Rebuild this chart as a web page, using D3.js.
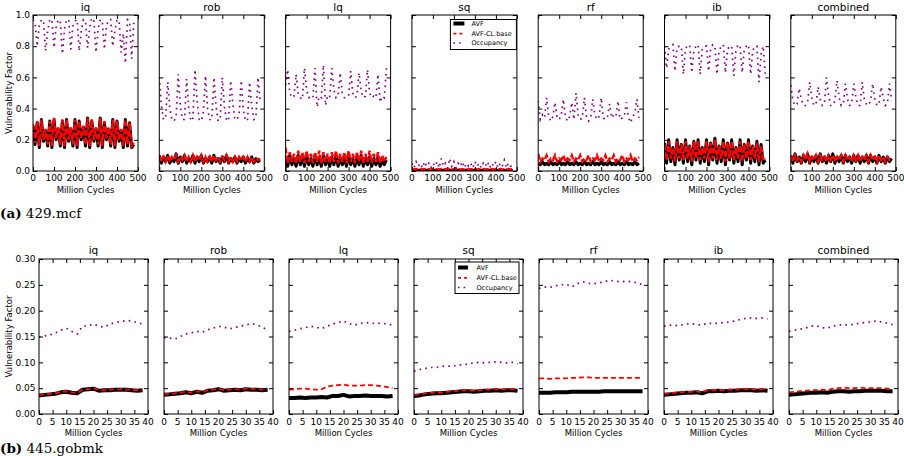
<!DOCTYPE html>
<html><head><meta charset="utf-8">
<script src="https://cdn.jsdelivr.net/npm/d3@7"></script>
<style>body{margin:0;background:#fff}svg{display:block}</style>
</head><body>
<svg id="c" width="904" height="456"></svg>
<script>
const panels = ["iq","rob","lq","sq","rf","ib","combined"];
const seriesNames = ["AVF","AVF-CL.base","Occupancy"];

const topCycles = [0,10,20,30,40,50,60,70,80,90,100,110,120,130,140,150,160,170,180,190,200,210,220,230,240,250,260,270,280,290,300,310,320,330,340,350,360,370,380,390,400,410,420,430,440,450,460,470,480];
const topXTicks = [0,100,200,300,400,500];
const topYTicks = [0,0.2,0.4,0.6,0.8,1.0];

const a_iq_avf = [0.29,0.17,0.31,0.15,0.33,0.19,0.26,0.16,0.32,0.15,
0.33,0.20,0.27,0.16,0.32,0.15,0.33,0.19,0.27,0.16,
0.33,0.15,0.32,0.20,0.28,0.16,0.34,0.15,0.32,0.19,
0.27,0.16,0.34,0.15,0.31,0.20,0.27,0.16,0.33,0.15,
0.32,0.19,0.26,0.15,0.33,0.16,0.31,0.15,0.17];
const a_iq_cl = [0.30,0.18,0.32,0.16,0.33,0.20,0.27,0.17,0.32,0.16,
0.34,0.21,0.28,0.17,0.33,0.16,0.33,0.20,0.28,0.17,
0.33,0.16,0.32,0.21,0.29,0.17,0.34,0.16,0.33,0.20,
0.28,0.17,0.34,0.16,0.32,0.21,0.28,0.17,0.33,0.16,
0.32,0.20,0.27,0.16,0.33,0.17,0.31,0.16,0.18];
const a_iq_occ = [0.97,0.95,0.80,0.93,0.97,0.96,0.77,0.90,0.97,0.97,
0.79,0.92,0.97,0.96,0.75,0.91,0.97,0.97,0.78,0.93,
0.96,0.97,0.77,0.90,0.97,0.96,0.79,0.92,0.98,0.97,
0.76,0.91,0.97,0.96,0.78,0.93,0.97,0.97,0.80,0.90,
0.97,0.96,0.76,0.88,0.69,0.97,0.96,0.72,0.95];

const a_rob_avf = [0.10,0.05,0.09,0.06,0.10,0.05,0.08,0.06,0.11,0.05,
0.09,0.06,0.10,0.05,0.08,0.06,0.10,0.05,0.09,0.06,
0.10,0.05,0.08,0.06,0.09,0.05,0.10,0.06,0.08,0.05,
0.09,0.06,0.10,0.05,0.08,0.06,0.09,0.05,0.08,0.06,
0.09,0.05,0.08,0.06,0.09,0.05,0.08,0.06,0.07];
const a_rob_cl = [0.10,0.06,0.09,0.06,0.10,0.06,0.09,0.07,0.10,0.06,
0.09,0.07,0.10,0.06,0.09,0.06,0.10,0.06,0.09,0.07,
0.10,0.06,0.09,0.06,0.09,0.06,0.10,0.07,0.09,0.06,
0.09,0.07,0.10,0.06,0.09,0.06,0.09,0.06,0.09,0.07,
0.09,0.06,0.09,0.06,0.09,0.06,0.08,0.07,0.08];
const a_rob_occ = [0.60,0.42,0.33,0.34,0.57,0.40,0.33,0.32,0.35,0.62,
0.42,0.33,0.33,0.59,0.41,0.32,0.34,0.65,0.45,0.33,
0.32,0.38,0.61,0.40,0.33,0.33,0.60,0.42,0.32,0.34,
0.60,0.41,0.33,0.32,0.58,0.43,0.33,0.33,0.36,0.58,
0.40,0.32,0.33,0.57,0.42,0.33,0.34,0.60,0.45];

const a_lq_avf = [0.09,0.03,0.10,0.04,0.08,0.03,0.10,0.04,0.09,0.03,
0.10,0.04,0.08,0.03,0.10,0.04,0.09,0.03,0.10,0.04,
0.08,0.03,0.09,0.04,0.10,0.03,0.08,0.04,0.09,0.03,
0.10,0.04,0.08,0.03,0.09,0.04,0.10,0.03,0.08,0.04,
0.09,0.03,0.08,0.04,0.09,0.03,0.07,0.04,0.07];
const a_lq_cl = [0.15,0.05,0.12,0.06,0.11,0.05,0.13,0.06,0.12,0.05,
0.13,0.06,0.11,0.05,0.12,0.06,0.13,0.05,0.12,0.06,
0.11,0.05,0.12,0.06,0.13,0.05,0.11,0.06,0.12,0.05,
0.13,0.06,0.11,0.05,0.12,0.06,0.13,0.05,0.11,0.06,
0.13,0.05,0.11,0.06,0.12,0.05,0.10,0.06,0.09];
const a_lq_occ = [0.55,0.65,0.50,0.47,0.48,0.62,0.50,0.47,0.46,0.66,
0.52,0.47,0.48,0.47,0.66,0.41,0.48,0.47,0.68,0.42,
0.48,0.47,0.66,0.52,0.47,0.48,0.63,0.50,0.47,0.47,
0.48,0.64,0.50,0.47,0.48,0.63,0.51,0.47,0.48,0.65,
0.50,0.47,0.48,0.47,0.62,0.44,0.48,0.47,0.66];

const a_sq_avf = [0.005,0.004,0.006,0.004,0.005,0.004,0.006,0.004,0.005,0.004,
0.006,0.004,0.005,0.004,0.006,0.004,0.005,0.004,0.006,0.004,
0.005,0.004,0.006,0.004,0.005,0.004,0.006,0.004,0.005,0.004,
0.006,0.004,0.005,0.004,0.006,0.004,0.005,0.004,0.006,0.004,
0.005,0.004,0.006,0.004,0.005,0.004,0.006,0.004,0.005];
const a_sq_cl = [0.012,0.010,0.013,0.010,0.012,0.010,0.013,0.010,0.012,0.010,
0.013,0.010,0.012,0.010,0.013,0.010,0.012,0.010,0.013,0.010,
0.012,0.010,0.013,0.010,0.012,0.010,0.013,0.010,0.012,0.010,
0.013,0.010,0.012,0.010,0.013,0.010,0.012,0.010,0.013,0.010,
0.012,0.010,0.013,0.010,0.012,0.010,0.013,0.010,0.012];
const a_sq_occ = [0.05,0.02,0.06,0.03,0.05,0.02,0.06,0.03,0.05,0.02,
0.05,0.03,0.06,0.02,0.08,0.03,0.05,0.02,0.08,0.03,
0.06,0.02,0.05,0.03,0.06,0.02,0.05,0.03,0.05,0.02,
0.06,0.03,0.05,0.02,0.05,0.03,0.06,0.02,0.05,0.03,
0.06,0.02,0.05,0.03,0.07,0.02,0.05,0.03,0.04];

const a_rf_avf = [0.05,0.04,0.06,0.04,0.05,0.04,0.06,0.04,0.05,0.04,
0.06,0.04,0.05,0.04,0.06,0.04,0.05,0.04,0.06,0.04,
0.05,0.04,0.06,0.04,0.05,0.04,0.06,0.04,0.05,0.04,
0.06,0.04,0.05,0.04,0.06,0.04,0.05,0.04,0.06,0.04,
0.05,0.04,0.06,0.04,0.05,0.04,0.06,0.04,0.05];
const a_rf_cl = [0.11,0.06,0.08,0.07,0.10,0.06,0.08,0.07,0.10,0.06,
0.08,0.07,0.10,0.06,0.08,0.07,0.10,0.06,0.08,0.07,
0.10,0.06,0.08,0.07,0.10,0.06,0.08,0.07,0.10,0.06,
0.08,0.07,0.10,0.06,0.08,0.07,0.10,0.06,0.08,0.07,
0.10,0.06,0.08,0.07,0.10,0.06,0.08,0.07,0.09];
const a_rf_occ = [0.45,0.33,0.36,0.34,0.47,0.35,0.32,0.35,0.44,0.34,
0.33,0.36,0.46,0.34,0.32,0.35,0.44,0.33,0.50,0.36,
0.33,0.34,0.47,0.35,0.32,0.34,0.46,0.36,0.33,0.35,
0.47,0.34,0.33,0.35,0.43,0.34,0.36,0.35,0.45,0.33,
0.34,0.35,0.44,0.34,0.31,0.35,0.37,0.46,0.34];

const a_ib_avf = [0.18,0.05,0.20,0.06,0.15,0.04,0.20,0.07,0.17,0.05,
0.20,0.06,0.16,0.04,0.19,0.07,0.20,0.05,0.15,0.06,
0.20,0.04,0.18,0.07,0.21,0.05,0.16,0.06,0.20,0.04,
0.18,0.07,0.20,0.05,0.15,0.06,0.20,0.04,0.17,0.07,
0.20,0.05,0.16,0.06,0.19,0.04,0.17,0.05,0.07];
const a_ib_cl = [0.17,0.07,0.19,0.08,0.15,0.06,0.19,0.08,0.17,0.07,
0.19,0.08,0.16,0.06,0.19,0.08,0.19,0.07,0.15,0.08,
0.19,0.06,0.18,0.08,0.20,0.07,0.16,0.08,0.19,0.06,
0.18,0.08,0.19,0.07,0.15,0.08,0.19,0.06,0.17,0.08,
0.19,0.07,0.16,0.08,0.18,0.06,0.16,0.07,0.08];
const a_ib_occ = [0.80,0.66,0.78,0.80,0.81,0.64,0.79,0.80,0.80,0.62,
0.78,0.81,0.80,0.63,0.77,0.80,0.81,0.62,0.78,0.80,
0.80,0.64,0.79,0.81,0.80,0.62,0.77,0.80,0.81,0.63,
0.78,0.80,0.80,0.61,0.77,0.81,0.80,0.63,0.78,0.80,
0.81,0.62,0.77,0.80,0.80,0.57,0.75,0.80,0.62];

const a_comb_avf = [0.10,0.05,0.11,0.06,0.09,0.05,0.10,0.06,0.11,0.05,
0.09,0.06,0.10,0.05,0.11,0.06,0.09,0.05,0.10,0.06,
0.11,0.05,0.09,0.06,0.10,0.05,0.10,0.06,0.09,0.05,
0.10,0.06,0.10,0.05,0.09,0.06,0.10,0.05,0.10,0.06,
0.09,0.05,0.10,0.06,0.09,0.05,0.09,0.06,0.08];
const a_comb_cl = [0.10,0.06,0.10,0.07,0.09,0.06,0.10,0.07,0.11,0.06,
0.09,0.07,0.10,0.06,0.10,0.07,0.09,0.06,0.10,0.07,
0.10,0.06,0.09,0.07,0.10,0.06,0.10,0.07,0.09,0.06,
0.10,0.07,0.10,0.06,0.09,0.07,0.10,0.06,0.10,0.07,
0.09,0.06,0.10,0.07,0.09,0.06,0.09,0.07,0.08];
const a_comb_occ = [0.55,0.45,0.42,0.43,0.53,0.46,0.42,0.42,0.44,0.57,
0.47,0.42,0.43,0.54,0.46,0.42,0.43,0.60,0.48,0.42,
0.42,0.45,0.58,0.47,0.42,0.43,0.56,0.46,0.42,0.43,
0.56,0.47,0.42,0.42,0.57,0.46,0.43,0.42,0.45,0.56,
0.46,0.42,0.43,0.54,0.47,0.42,0.43,0.56,0.45];

const botCycles = [0,2,4,6,8,10,12,14,16,18,20,22,24,26,28,30,32,34,36,38];
const botXTicks = [0,5,10,15,20,25,30,35,40];
const botYTicks = [0,0.05,0.10,0.15,0.20,0.25,0.30];

const b_iq_avf = [0.036,0.037,0.038,0.039,0.042,0.043,0.041,0.040,0.047,0.048,0.049,0.045,0.046,0.046,0.047,0.047,0.047,0.046,0.045,0.046];
const b_iq_cl = [0.037,0.038,0.039,0.040,0.043,0.044,0.042,0.041,0.047,0.048,0.050,0.046,0.046,0.047,0.047,0.048,0.047,0.047,0.046,0.046];
const b_iq_occ = [0.149,0.151,0.153,0.157,0.162,0.166,0.160,0.155,0.170,0.171,0.174,0.170,0.168,0.174,0.177,0.179,0.181,0.180,0.177,0.174];

const b_rob_avf = [0.037,0.038,0.039,0.040,0.042,0.040,0.043,0.041,0.045,0.046,0.048,0.045,0.046,0.047,0.046,0.048,0.047,0.047,0.046,0.047];
const b_rob_cl = [0.038,0.039,0.040,0.041,0.043,0.041,0.044,0.042,0.046,0.047,0.049,0.046,0.047,0.048,0.047,0.049,0.048,0.048,0.047,0.048];
const b_rob_occ = [0.148,0.147,0.145,0.150,0.155,0.157,0.160,0.158,0.163,0.166,0.170,0.168,0.165,0.167,0.170,0.172,0.175,0.173,0.168,0.163];

const b_lq_avf = [0.031,0.031,0.032,0.031,0.032,0.032,0.033,0.032,0.035,0.035,0.037,0.034,0.035,0.035,0.036,0.035,0.035,0.035,0.034,0.035];
const b_lq_cl = [0.047,0.048,0.049,0.049,0.048,0.047,0.048,0.053,0.055,0.056,0.057,0.055,0.055,0.055,0.056,0.056,0.055,0.054,0.052,0.050];
const b_lq_occ = [0.160,0.162,0.165,0.167,0.170,0.168,0.165,0.170,0.174,0.177,0.180,0.175,0.172,0.175,0.177,0.176,0.175,0.176,0.174,0.172];

const b_sq_avf = [0.035,0.036,0.038,0.039,0.040,0.040,0.041,0.042,0.043,0.044,0.044,0.043,0.044,0.045,0.045,0.046,0.045,0.046,0.046,0.045];
const b_sq_cl = [0.037,0.038,0.040,0.041,0.042,0.041,0.043,0.044,0.045,0.046,0.046,0.045,0.046,0.047,0.047,0.048,0.047,0.048,0.048,0.047];
const b_sq_occ = [0.083,0.086,0.088,0.090,0.090,0.092,0.093,0.092,0.095,0.095,0.097,0.099,0.100,0.099,0.100,0.101,0.100,0.099,0.100,0.097];

const b_rf_avf = [0.041,0.041,0.041,0.042,0.042,0.042,0.043,0.043,0.043,0.043,0.043,0.043,0.044,0.044,0.044,0.044,0.044,0.044,0.044,0.044];
const b_rf_cl = [0.069,0.069,0.068,0.069,0.069,0.069,0.070,0.070,0.071,0.071,0.070,0.070,0.070,0.070,0.070,0.070,0.070,0.070,0.070,0.070];
const b_rf_occ = [0.243,0.246,0.245,0.248,0.250,0.251,0.246,0.252,0.256,0.253,0.252,0.254,0.256,0.259,0.257,0.256,0.257,0.256,0.254,0.250];

const b_ib_avf = [0.037,0.038,0.039,0.040,0.041,0.041,0.042,0.040,0.044,0.044,0.045,0.044,0.045,0.045,0.046,0.046,0.046,0.045,0.046,0.045];
const b_ib_cl = [0.039,0.040,0.041,0.042,0.043,0.043,0.044,0.042,0.046,0.046,0.047,0.046,0.047,0.047,0.048,0.048,0.048,0.047,0.048,0.047];
const b_ib_occ = [0.170,0.172,0.171,0.172,0.174,0.175,0.173,0.172,0.176,0.175,0.176,0.177,0.178,0.180,0.183,0.185,0.186,0.185,0.186,0.184];

const b_comb_avf = [0.037,0.038,0.039,0.040,0.041,0.041,0.042,0.041,0.043,0.044,0.044,0.043,0.044,0.044,0.045,0.045,0.045,0.045,0.044,0.044];
const b_comb_cl = [0.042,0.043,0.044,0.045,0.046,0.046,0.047,0.046,0.049,0.050,0.051,0.050,0.050,0.051,0.050,0.050,0.050,0.050,0.049,0.049];
const b_comb_occ = [0.160,0.162,0.164,0.166,0.170,0.171,0.167,0.166,0.170,0.172,0.173,0.172,0.174,0.176,0.177,0.178,0.180,0.178,0.176,0.173];

const captionA = ["(a)", "429.mcf"];
const captionB = ["(b)", "445.gobmk"];

const topSeries = [
  [a_iq_avf,a_iq_cl,a_iq_occ],[a_rob_avf,a_rob_cl,a_rob_occ],[a_lq_avf,a_lq_cl,a_lq_occ],
  [a_sq_avf,a_sq_cl,a_sq_occ],[a_rf_avf,a_rf_cl,a_rf_occ],[a_ib_avf,a_ib_cl,a_ib_occ],
  [a_comb_avf,a_comb_cl,a_comb_occ]];
const botSeries = [
  [b_iq_avf,b_iq_cl,b_iq_occ],[b_rob_avf,b_rob_cl,b_rob_occ],[b_lq_avf,b_lq_cl,b_lq_occ],
  [b_sq_avf,b_sq_cl,b_sq_occ],[b_rf_avf,b_rf_cl,b_rf_occ],[b_ib_avf,b_ib_cl,b_ib_occ],
  [b_comb_avf,b_comb_cl,b_comb_occ]];

const FONT = "DejaVu Sans, sans-serif";
const svg = d3.select("#c");
const defs = svg.append("defs");

const rows = [
  {id:"a", cycles:topCycles, series:topSeries, x0:33, step:126.3, w:105, yT:15, yB:171,
   xDom:[0,500], xTicks:topXTicks, yDom:[0,1], yTicks:topYTicks, yFmt:d3.format(".1f"),
   avfW:3, clW:2.4, clDash:"6,2", tickLabY:180.5, xLabY:193, titleY:10.5, yLabRight:30,
   legend:{x:38.5, y:19.5, w:66, h:30, ys:[4,14.2,23.5], l0:3, l1:14, tx:21}},
  {id:"b", cycles:botCycles, series:botSeries, x0:39, step:125, w:109, yT:259, yB:414,
   xDom:[0,40], xTicks:botXTicks, yDom:[0,0.3], yTicks:botYTicks, yFmt:d3.format(".2f"),
   avfW:4, clW:1.8, clDash:"5,3", tickLabY:425, xLabY:436, titleY:254, yLabRight:35.5,
   legend:{x:41, y:262, w:64, h:31.5, ys:[5.5,15.8,25.5], l0:3, l1:13, tx:21.5}}
];

const colors = ["#000000","#ff0000","#800080"];

rows.forEach(r => {
  const y = d3.scaleLinear().domain(r.yDom).range([r.yB, r.yT]);
  panels.forEach((name, i) => {
    const left = r.x0 + i * r.step;
    const x = d3.scaleLinear().domain(r.xDom).range([left, left + r.w]);
    const g = svg.append("g");
    const cid = "clip-" + r.id + i;
    defs.append("clipPath").attr("id", cid).append("rect")
      .attr("x", left).attr("y", r.yT).attr("width", r.w).attr("height", r.yB - r.yT);

    const lines = g.append("g").attr("clip-path", `url(#${cid})`);
    const line = d3.line().x((d, k) => x(r.cycles[k])).y(d => y(d));
    const [avf, cl, occ] = r.series[i];
    lines.append("path").attr("d", line(avf)).attr("fill","none")
      .attr("stroke", colors[0]).attr("stroke-width", r.avfW).attr("stroke-linejoin","round");
    lines.append("path").attr("d", line(cl)).attr("fill","none")
      .attr("stroke", colors[1]).attr("stroke-width", r.clW).attr("stroke-dasharray", r.clDash);
    lines.append("path").attr("d", line(occ)).attr("fill","none")
      .attr("stroke", colors[2]).attr("stroke-width", 1.7).attr("stroke-dasharray","1.6,4.2");

    const tickLen = 4;
    const axB = d3.axisBottom(x).tickValues(r.xTicks).tickSize(-tickLen).tickFormat("");
    const axT = d3.axisTop(x).tickValues(r.xTicks).tickSize(-tickLen).tickFormat("");
    const axL = d3.axisLeft(y).tickValues(r.yTicks).tickSize(-tickLen).tickFormat("");
    const axR = d3.axisRight(y).tickValues(r.yTicks).tickSize(-tickLen).tickFormat("");
    [[axB, `translate(0,${r.yB})`],[axT, `translate(0,${r.yT})`],
     [axL, `translate(${left},0)`],[axR, `translate(${left + r.w},0)`]].forEach(([ax, tr]) => {
      const ag = g.append("g").attr("transform", tr).call(ax);
      ag.select(".domain").remove();
      ag.selectAll("line").attr("stroke","#000").attr("stroke-width",1);
    });
    g.append("rect").attr("x", left).attr("y", r.yT).attr("width", r.w).attr("height", r.yB - r.yT)
      .attr("fill","none").attr("stroke","#000").attr("stroke-width",1);

    g.selectAll(null).data(r.xTicks).join("text")
      .attr("x", d => x(d)).attr("y", r.tickLabY).attr("text-anchor","middle")
      .attr("font-family", FONT).attr("font-size", 9).text(d => d);
    g.append("text").attr("x", left + r.w / 2).attr("y", r.xLabY).attr("text-anchor","middle")
      .attr("font-family", FONT).attr("font-size", 8.5).text("Million Cycles");
    g.append("text").attr("x", left + r.w / 2).attr("y", r.titleY).attr("text-anchor","middle")
      .attr("font-family", FONT).attr("font-size", 10.5).text(name);

    if (i === 0) {
      g.selectAll(null).data(r.yTicks).join("text")
        .attr("x", r.yLabRight).attr("y", d => y(d) + 3.2).attr("text-anchor","end")
        .attr("font-family", FONT).attr("font-size", 9).text(d => r.yFmt(d));
      const cy = (r.yT + r.yB) / 2;
      g.append("text").attr("transform", `translate(12,${cy}) rotate(-90)`)
        .attr("text-anchor","middle").attr("font-family", FONT).attr("font-size", 8.5)
        .text("Vulnerability Factor");
    }

    if (i === 3) {
      const L = r.legend;
      const lg = g.append("g").attr("transform", `translate(${left + L.x},${L.y})`);
      lg.append("rect").attr("width", L.w).attr("height", L.h).attr("fill","#fff")
        .attr("stroke","#000").attr("stroke-width",1);
      const styles = [
        {w:4, dash:null},{w:1.8, dash:"3,3"},{w:1.7, dash:"1.6,4"}];
      seriesNames.forEach((s, k) => {
        lg.append("line").attr("x1", L.l0).attr("x2", L.l1).attr("y1", L.ys[k]).attr("y2", L.ys[k])
          .attr("stroke", colors[k]).attr("stroke-width", styles[k].w)
          .attr("stroke-dasharray", styles[k].dash);
        lg.append("text").attr("x", L.tx).attr("y", L.ys[k] + 2.3)
          .attr("font-family", FONT).attr("font-size", 6.5).text(s);
      });
    }
  });
});

[[captionA, 218],[captionB, 452.5]].forEach(([c, yy]) => {
  const t = svg.append("text").attr("x", 0).attr("y", yy)
    .attr("font-family","DejaVu Serif, serif").attr("font-size", 13.5);
  t.append("tspan").attr("font-weight","bold").text(c[0]);
  t.append("tspan").text(" " + c[1]);
});
</script>
</body></html>
